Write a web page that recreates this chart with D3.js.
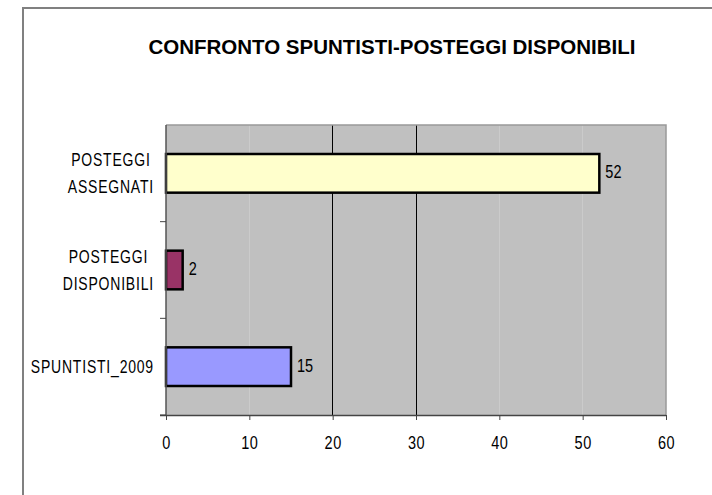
<!DOCTYPE html>
<html><head><meta charset="utf-8">
<script src="https://cdn.jsdelivr.net/npm/d3@7"></script>
<style>body{margin:0;background:#fff}svg{display:block}</style>
</head><body>
<svg id="c" width="712" height="495"></svg>
<script>
const title = "CONFRONTO SPUNTISTI-POSTEGGI DISPONIBILI";
const categories = [["POSTEGGI","ASSEGNATI"],["POSTEGGI","DISPONIBILI"],["SPUNTISTI_2009"]];
const values = [52, 2, 15];
const colors = ["#FFFFCC", "#993366", "#9999FF"];
const xTicks = [0, 10, 20, 30, 40, 50, 60];
const majorGrid = [20, 30];

const svg = d3.select("#c");
const m = {l:166, r:666, t:125, b:415};
const x = d3.scaleLinear().domain([0,60]).range([m.l, m.r]);
const y = d3.scaleBand().domain(d3.range(categories.length)).range([m.t, m.b]).paddingInner(0.6).paddingOuter(0.3);
const yEdge = d3.scaleLinear().domain([0, categories.length]).range([m.t, m.b]);
const lblFont = "Liberation Sans, Arial, sans-serif";
const SY = 1.3;

// outer border
svg.append("path").attr("d", `M23,${495+5} L23,8 L${712+5},8`).attr("fill","none").attr("stroke","#808080").attr("stroke-width",2);

svg.append("text").attr("x",392).attr("y",54).attr("text-anchor","middle")
  .attr("font-family","Liberation Sans, Arial, sans-serif").attr("font-weight","bold").attr("font-size",20.5)
  .text(title);

// plot bg
svg.append("rect").attr("x",m.l).attr("y",m.t).attr("width",m.r-m.l).attr("height",m.b-m.t).attr("fill","#C0C0C0");
// grid
svg.append("g").selectAll("line").data(xTicks.filter(t=>t>0&&t<60)).join("line")
  .attr("x1",d=>x(d)).attr("x2",d=>x(d)).attr("y1",m.t).attr("y2",m.b)
  .attr("stroke",d=>majorGrid.includes(d)?"#000":"#cbcbcb").attr("stroke-width",1).attr("shape-rendering","crispEdges");
// top/right frame
svg.append("path").attr("d",`M${m.l},${m.t} L${m.r},${m.t} L${m.r},${m.b}`).attr("fill","none").attr("stroke","#999").attr("stroke-width",1.5);

// bars
svg.append("g").selectAll("rect").data(values).join("rect")
  .attr("x",x(0)).attr("y",(d,i)=>y(i)).attr("width",d=>x(d)-x(0)).attr("height",y.bandwidth())
  .attr("fill",(d,i)=>colors[i]).attr("stroke","#000").attr("stroke-width",2.5);

svg.append("g").selectAll("text").data(values).join("text")
  .attr("transform",(d,i)=>`translate(${x(d)+6},${y(i)+y.bandwidth()/2+5}) scale(1,${SY})`)
  .attr("font-family",lblFont).attr("font-size",14.5).attr("fill","#000")
  .text(d=>d);

// x axis
const xa = svg.append("g").attr("transform",`translate(0,${m.b})`)
  .call(d3.axisBottom(x).tickValues(xTicks).tickSize(5));
xa.select(".domain").attr("stroke","#444").attr("stroke-width",1.5).attr("d",`M${m.l-6},0.5H${m.r}`);
xa.selectAll(".tick line").attr("stroke","#444");
xa.selectAll(".tick text").attr("y",null).attr("dy",null)
  .attr("transform",`translate(0,34) scale(1,${SY})`)
  .attr("font-family",lblFont).attr("font-size",14.5).attr("fill","#000").attr("letter-spacing",0.5);

// y axis line & ticks
svg.append("line").attr("x1",m.l).attr("x2",m.l).attr("y1",m.t).attr("y2",m.b).attr("stroke","#555").attr("stroke-width",1.5);
svg.append("g").selectAll("line").data(d3.range(1,categories.length+1)).join("line")
  .attr("x1",m.l-6).attr("x2",m.l).attr("y1",d=>yEdge(d)).attr("y2",d=>yEdge(d)).attr("stroke","#444");

// category labels: block right-aligned, lines centered within block
const lineH = 27;
const cl = svg.append("g").selectAll("g").data(categories).join("g");
cl.each(function(d,i){
  const g = d3.select(this);
  const cy = y(i)+y.bandwidth()/2;
  const ts = g.selectAll("text").data(d).join("text")
    .attr("text-anchor","middle").attr("font-family",lblFont).attr("font-size",14).attr("fill","#000").attr("letter-spacing",0.8)
    .text(t=>t);
  let maxW = 0;
  ts.each(function(){ maxW = Math.max(maxW, this.getComputedTextLength()); });
  const cx = 154 - maxW/2;
  ts.attr("transform",(t,j)=>`translate(${cx},${cy + 6.5 + (j-(d.length-1)/2)*lineH}) scale(1,${SY})`);
});
</script>
</body></html>
